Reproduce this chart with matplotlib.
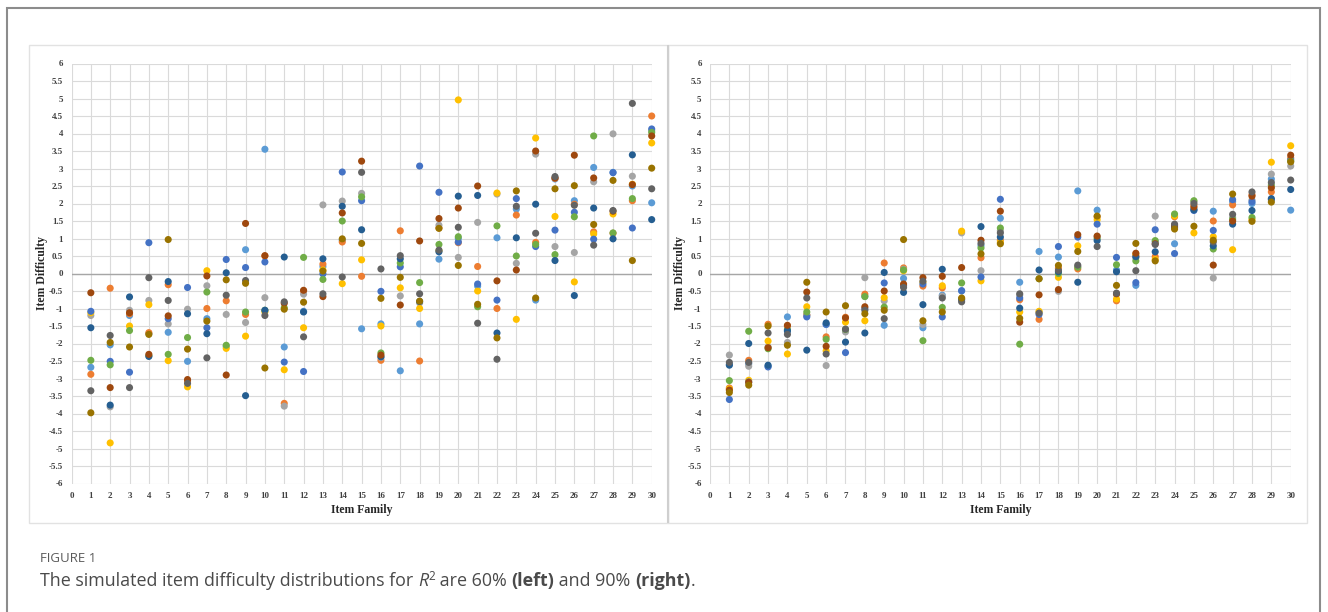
import matplotlib
matplotlib.use('Agg')
import matplotlib.pyplot as plt
from matplotlib.patches import Rectangle

plt.rcParams['axes.unicode_minus'] = False

# item families on the x axis
families = list(range(1, 31))

# Excel style series colours (order = drawing order)
colors = ['#5B9BD5', '#ED7D31', '#A5A5A5', '#FFC000', '#4472C4',
          '#70AD47', '#255E91', '#9E480E', '#636363', '#997300']

# ---- left panel (R2 = 60%) ----
left_lightblue = [-2.68, -2.04, -1.2, -1.72, -1.68, -2.51, -1.29, -2.08, 0.68, 3.55, -2.1, -1.08, 0.2, 0.95, -1.58,
                  -1.44, -2.78, -1.44, 0.41, 1.0, -0.36, 1.02, 1.84, -0.76, 2.7, 2.08, 3.03, 2.89, 2.5, 2.02]
left_orange = [-2.88, -0.42, -1.15, -1.69, -0.32, -3.07, -1.0, -0.78, -1.17, 0.5, -3.71, -0.5, 0.27, 0.9, -0.08,
               -2.48, 1.22, -2.5, 1.3, 0.88, 0.2, -1.0, 1.67, 0.89, 2.72, 1.98, 1.19, 1.15, 2.08, 4.5]
left_gray = [-1.2, -3.81, -1.05, -0.77, -1.44, -1.02, -0.35, -1.17, -1.4, -0.69, -3.79, -0.59, 1.96, 2.07, 2.29,
             -2.4, -0.64, -0.84, 1.38, 0.46, 1.46, 2.27, 0.29, 3.41, 0.77, 0.6, 2.62, 3.99, 2.78, 4.08]
left_gold = [-1.12, -4.84, -1.5, -0.89, -2.49, -3.24, 0.08, -2.14, -1.79, -1.1, -2.75, -1.55, 0.1, -0.29, 0.39,
             -1.5, -0.41, -1.0, 0.65, 4.96, -0.5, 2.3, -1.31, 3.87, 1.63, -0.24, 1.13, 1.7, 2.55, 3.73]
left_blue = [-1.08, -2.51, -2.82, 0.88, -1.29, -0.4, -1.55, 0.4, 0.17, 0.33, -2.53, -2.8, -0.01, 2.9, 2.08,
             -0.51, 0.19, 3.07, 2.32, 0.9, -0.3, -0.76, 2.14, 0.77, 1.24, 1.75, 0.98, 2.88, 1.3, 4.13]
left_green = [-2.48, -2.61, -1.63, -2.35, -2.31, -1.83, -0.53, -2.05, -1.1, -1.05, -0.98, 0.46, -0.17, 1.5, 2.19,
              -2.27, 0.3, -0.26, 0.83, 1.05, -0.95, 1.36, 0.5, 0.83, 0.54, 1.62, 3.93, 1.16, 2.14, 4.03]
left_darkblue = [-1.55, -3.76, -0.67, -2.37, -0.23, -1.15, -1.72, 0.02, -3.49, -1.05, 0.47, -1.1, 0.42, 1.92, 1.25,
                 -2.38, 0.42, -0.8, 0.62, 2.21, 2.23, -1.7, 1.02, 1.98, 0.37, -0.63, 1.87, 0.99, 3.39, 1.54]
left_brown = [-0.55, -3.26, -1.12, -2.31, -1.21, -3.03, -0.07, -2.9, 1.43, 0.51, -0.85, -0.48, -0.66, 1.73, 3.21,
              -2.33, -0.9, 0.93, 1.57, 1.87, 2.5, -0.21, 0.1, 3.5, 2.73, 3.38, 2.73, 1.78, 2.54, 3.93]
left_darkgray = [-3.35, -1.77, -3.26, -0.12, -0.77, -3.14, -2.41, -0.62, -0.2, -1.2, -0.81, -1.81, -0.58, -0.1, 2.89,
                 0.13, 0.51, -0.58, 0.67, 1.32, -1.42, -2.45, 1.92, 1.15, 2.77, 1.95, 0.81, 1.8, 4.86, 2.42]
left_olive = [-3.98, -1.97, -2.1, -1.74, 0.97, -2.16, -1.36, -0.18, -0.28, -2.7, -1.02, -0.82, 0.07, 0.99, 0.86,
              -0.71, -0.11, -0.79, 1.29, 0.23, -0.88, -1.84, 2.36, -0.7, 2.42, 2.51, 1.4, 2.66, 0.37, 3.01]

# ---- right panel (R2 = 90%) ----
right_lightblue = [-2.6, -2.58, -2.65, -1.24, -1.19, -1.46, -1.62, -0.65, -1.48, -0.14, -1.55, -0.62, -0.5, 0.8, 1.58,
                   -0.25, 0.63, 0.47, 2.36, 1.81, 0.1, -0.34, 0.9, 0.85, 1.85, 1.78, 2.05, 2.0, 2.7, 1.81]
right_orange = [-3.27, -2.48, -1.45, -1.5, -1.18, -1.81, -1.25, -0.59, 0.3, 0.16, -0.36, -0.41, -0.72, 0.45, 0.95,
                -0.75, -1.31, 0.15, 0.13, 1.62, -0.78, 0.5, 0.48, 1.62, 1.95, 1.5, 1.96, 2.25, 2.33, 3.3]
right_gray = [-2.33, -2.65, -2.1, -1.97, -1.2, -2.63, -1.67, -0.12, -0.78, 0.12, -1.46, -0.65, 1.16, 0.08, 1.22,
              -0.62, -1.1, -0.51, 0.2, 1.05, -0.6, 0.45, 1.64, 1.35, 2.05, -0.13, 1.6, 2.1, 2.84, 3.07]
right_gold = [-3.3, -3.05, -1.93, -2.3, -0.95, -2.21, -1.39, -1.35, -0.69, 0.08, -0.25, -0.35, 1.21, -0.21, 0.89,
              -1.1, -1.08, -0.11, 0.79, 1.54, -0.73, 0.55, 0.4, 1.65, 1.16, 1.05, 0.68, 1.54, 3.18, 3.65]
right_blue = [-3.6, -3.1, -2.67, -1.65, -1.24, -1.45, -2.26, -1.0, -0.27, -0.35, -0.3, -1.24, -0.49, -0.1, 2.12,
              -0.7, -1.17, 0.77, 1.04, 1.41, 0.46, -0.26, 1.25, 0.57, 1.8, 1.23, 2.11, 2.05, 2.11, 3.25]
right_green = [-3.06, -1.65, -2.15, -1.6, -1.1, -1.88, -1.6, -0.66, -0.96, 0.1, -1.92, -0.97, -0.27, 0.73, 1.3,
               -2.02, -0.15, 0.0, 0.18, 1.0, 0.25, 0.36, 0.94, 1.7, 2.08, 0.7, 1.55, 1.6, 2.52, 3.21]
right_darkblue = [-2.62, -2.0, -2.62, -1.63, -2.19, -1.41, -1.96, -1.7, 0.03, -0.54, -0.89, 0.12, -0.75, 1.34, 1.04,
                  -0.99, 0.1, 0.05, -0.25, 0.94, 0.05, 0.48, 0.62, 1.32, 1.82, 0.79, 1.41, 1.8, 2.14, 2.4]
right_brown = [-3.33, -3.11, -2.12, -1.48, -0.53, -2.08, -1.27, -0.95, -0.5, -0.3, -0.12, -0.08, 0.17, 0.95, 1.78,
               -1.39, -0.61, -0.46, 1.11, 1.07, -0.58, 0.58, 0.85, 1.38, 1.9, 0.24, 1.5, 2.21, 2.45, 3.38]
right_darkgray = [-2.54, -2.54, -1.7, -1.74, -0.7, -2.3, -1.59, -1.05, -1.29, -0.4, -0.22, -0.7, -0.81, 0.86, 1.16,
                  -0.58, -1.13, 0.09, 0.24, 0.77, -0.56, 0.08, 0.83, 1.41, 2.0, 0.9, 1.69, 2.33, 2.6, 2.67]
right_olive = [-3.4, -3.19, -1.5, -2.05, -0.25, -1.1, -0.92, -1.15, -1.05, 0.97, -1.35, -1.1, -0.7, 0.56, 0.85,
               -1.28, -0.15, 0.23, 0.63, 1.64, -0.34, 0.86, 0.36, 1.27, 1.35, 0.95, 2.27, 1.49, 2.04, 3.19]

left_series = [left_lightblue, left_orange, left_gray, left_gold, left_blue,
               left_green, left_darkblue, left_brown, left_darkgray, left_olive]
right_series = [right_lightblue, right_orange, right_gray, right_gold, right_blue,
                right_green, right_darkblue, right_brown, right_darkgray, right_olive]

x_ticks = list(range(0, 31))
y_ticks = [v / 2 for v in range(-12, 13)]
y_labels = [('%g' % v) for v in y_ticks]

W, H = 1328, 612
fig = plt.figure(figsize=(W / 100, H / 100), dpi=100)


def px_rect(x0, y0, x1, y1):
    # pixel box (top-left origin) -> figure fraction [left, bottom, width, height]
    return [x0 / W, 1 - y1 / H, (x1 - x0) / W, (y1 - y0) / H]


# outer frame and panel borders
fig.patches.append(Rectangle((7 / W, 1 - 625 / H), (1320 - 7) / W, (625 - 8) / H,
                             transform=fig.transFigure, fill=False, ec='#8c8c8c', lw=1.5))
for x0, x1 in [(29, 668), (668, 1307)]:
    b = px_rect(x0, 45, x1, 523)
    fig.patches.append(Rectangle((b[0], b[1]), b[2], b[3], transform=fig.transFigure,
                                 fill=False, ec='#e2e2e2', lw=1))
fig.patches.append(Rectangle((668 / W, 1 - 523 / H), 0, (523 - 45) / H,
                             transform=fig.transFigure, fill=False, ec='#cfcfcf', lw=1.5))

tick_font = dict(family='Liberation Serif', weight='bold', size=6.5)
label_font = dict(family='Liberation Serif', weight='bold', size=8.5)

for (x0, x1), series in [((71.5, 651.7), left_series), ((710, 1290.7), right_series)]:
    ax = fig.add_axes(px_rect(x0, 63.5, x1, 483.5))
    ax.set_xlim(0, 30)
    ax.set_ylim(-6, 6)
    for s in ax.spines.values():
        s.set_visible(False)
    ax.set_xticks(x_ticks)
    ax.set_xticklabels([str(t) for t in x_ticks], fontdict=tick_font)
    ax.set_yticks(y_ticks)
    ax.set_yticklabels(y_labels, fontdict=tick_font)
    ax.tick_params(length=0, pad=6, colors='#404040')
    ax.grid(True, color='#dadada', lw=0.8)
    ax.set_axisbelow(True)
    ax.axhline(0, color='#a6a6a6', lw=1, zorder=1)
    for vals, c in zip(series, colors):
        ax.scatter(families, vals, s=26, color=c, edgecolors='none', zorder=3, clip_on=False)
    ax.set_xlabel('Item Family', fontdict=label_font, labelpad=3, color='#262626')
    ax.set_ylabel('Item Difficulty', fontdict=label_font, labelpad=1, color='#262626')

# caption
fig.text(40 / W, 1 - 562 / H, 'FIGURE 1', family='Open Sans', size=9.5, color='#5a5a5a')

renderer = fig.canvas.get_renderer()
pieces = [('The simulated item difficulty distributions for ', 'normal', 'normal', 12.9, 0),
          ('R', 'normal', 'italic', 12.9, 0),
          ('2', 'normal', 'normal', 8.5, 6.5),
          (' are 60% ', 'normal', 'normal', 12.9, 0),
          ('(left)', 'bold', 'normal', 12.9, 0),
          (' and 90% ', 'normal', 'normal', 12.9, 0),
          ('(right)', 'bold', 'normal', 12.9, 0),
          ('.', 'normal', 'normal', 12.9, 0)]
xpos = 40
base = 586
for txt, wt, st, sz, rise in pieces:
    t = fig.text(xpos / W, 1 - (base - rise) / H, txt, family='Open Sans', weight=wt,
                 style=st, size=sz, color='#4a4a4a', va='baseline')
    xpos += t.get_window_extent(renderer).width

fig.savefig('out.png', dpi=100)
